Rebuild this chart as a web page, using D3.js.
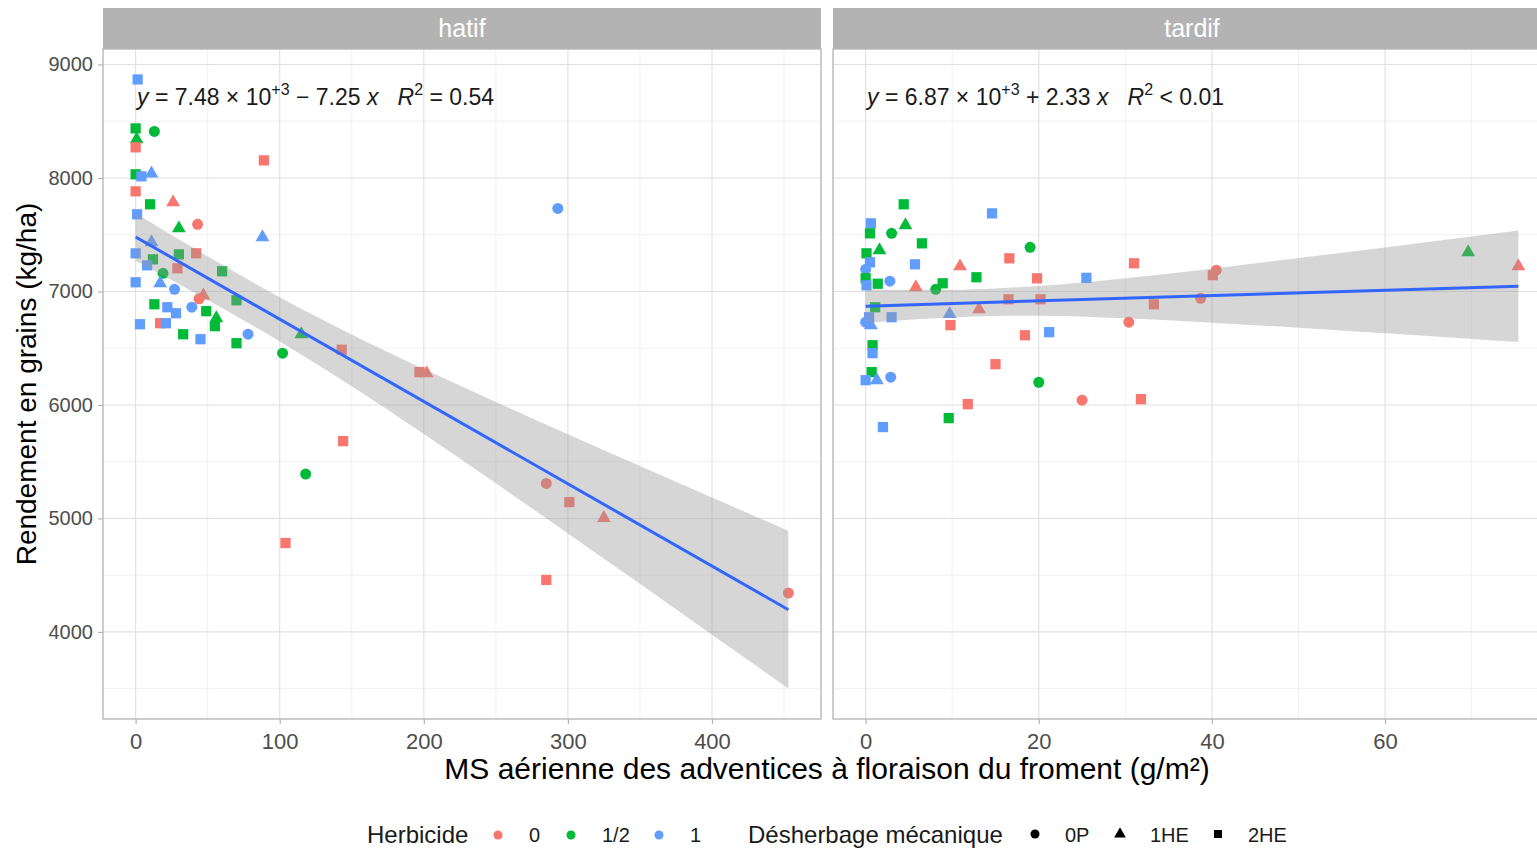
<!DOCTYPE html>
<html>
<head>
<meta charset="utf-8">
<script src="https://cdn.jsdelivr.net/npm/d3@7"></script>
<style>
body { margin: 0; background: #fff; }
svg { display: block; font-family: "Liberation Sans", Arial, sans-serif; }
</style>
</head>
<body>
<svg id="chart" width="1537" height="848"></svg>
<script>
// ---- data ----
const herbLevels = ["0", "1/2", "1"];
const herbColors = ["#F8766D", "#00BA38", "#619CFF"];
const mecaLevels = ["0P", "1HE", "2HE"];

// hatif panel
const hatifX = [1.4, 0, 13, 0.7, 0, 0, 4, 11, 0, 10, 26, 1, 43, 30, 89, 88, 11, 0, 30, 42,
    12, 8, 29, 19, 60, 0, 17, 27, 44, 47, 70, 13, 22, 39, 28, 49, 56, 3, 17, 21,
    55, 33, 45, 78, 70, 115, 102, 293, 143, 197, 202, 144, 118, 104, 285, 301, 325, 285, 453];
const hatifY = [8868, 8437, 8410, 8340, 8270, 8032, 8014, 8040, 7882, 7768, 7785, 7680, 7592, 7556, 8155, 7477, 7433, 7336, 7327, 7336,
    7283, 7230, 7204, 7160, 7178, 7081, 7072, 7019, 6935, 6965, 6922, 6887, 6861, 6861, 6808, 6826, 6764, 6711, 6720, 6720,
    6694, 6623, 6579, 6623, 6544, 6623, 6456, 7732, 6487, 6289, 6280, 5681, 5391, 4783, 5308, 5144, 5004, 4458, 4343];
const hatifHerb = ["1", "1/2", "1/2", "1/2", "0", "1/2", "1", "1", "0", "1/2", "0", "1", "0", "1/2", "0", "1", "1", "1", "1/2", "0",
    "1/2", "1", "0", "1/2", "1/2", "1", "1", "1", "0", "0", "1/2", "1/2", "1", "1", "1", "1/2", "1/2", "1", "0", "1",
    "1/2", "1/2", "1", "1", "1/2", "1/2", "1/2", "1", "0", "0", "0", "0", "1/2", "0", "0", "0", "0", "0", "0"];
const hatifMeca = ["2HE", "2HE", "0P", "1HE", "2HE", "2HE", "2HE", "1HE", "2HE", "2HE", "1HE", "2HE", "0P", "1HE", "2HE", "1HE", "1HE", "2HE", "2HE", "2HE",
    "2HE", "2HE", "2HE", "0P", "2HE", "2HE", "1HE", "0P", "0P", "1HE", "2HE", "2HE", "2HE", "0P", "2HE", "2HE", "1HE", "2HE", "2HE", "2HE",
    "2HE", "2HE", "2HE", "0P", "2HE", "1HE", "0P", "0P", "2HE", "2HE", "1HE", "2HE", "0P", "2HE", "0P", "2HE", "1HE", "2HE", "0P"];

// tardif panel
const tardifX = [4.4, 14.6, 0.6, 0.5, 4.6, 3, 19, 6.5, 1.6, 0.1, 0.5, 0, 5.7, 16.6, 10.9, 19.8, 25.5, 12.8, 2.8, 0,
    0.1, 1.4, 5.8, 8.1, 8.9, 16.5, 20.2, 1.1, 13.1, 9.7, 3, 0.4, 0, 0.6, 9.8, 18.4, 21.2, 0.8, 0.8, 15,
    0.7, 0, 1.3, 2.9, 20, 25, 11.8, 9.6, 2, 31, 40.5, 40.1, 38.7, 33.3, 30.4, 31.8, 69.6, 75.4];
const tardifY = [7768, 7688, 7600, 7512, 7583, 7512, 7389, 7424, 7363, 7336, 7257, 7195, 7239, 7292, 7221, 7116, 7120, 7125, 7090, 7116,
    7054, 7068, 7037, 7019, 7072, 6931, 6931, 6861, 6843, 6800, 6773, 6773, 6729, 6702, 6703, 6614, 6641, 6526, 6456, 6359,
    6289, 6218, 6218, 6245, 6200, 6042, 6007, 5884, 5805, 7248, 7187, 7143, 6940, 6887, 6729, 6051, 7345, 7222];
const tardifHerb = ["1/2", "1", "1", "1/2", "1/2", "1/2", "1/2", "1/2", "1/2", "1/2", "1", "1", "1", "0", "0", "0", "1", "1/2", "1", "1/2",
    "1", "1/2", "0", "1/2", "1/2", "0", "0", "1/2", "0", "1", "1", "1", "1", "1", "0", "0", "1", "1/2", "1", "0",
    "1/2", "1", "1", "1", "1/2", "0", "0", "1/2", "1", "0", "0", "0", "0", "0", "0", "0", "1/2", "0"];
const tardifMeca = ["2HE", "2HE", "2HE", "2HE", "1HE", "0P", "0P", "2HE", "1HE", "2HE", "2HE", "0P", "2HE", "2HE", "1HE", "2HE", "2HE", "2HE", "0P", "2HE",
    "2HE", "2HE", "1HE", "0P", "2HE", "2HE", "2HE", "2HE", "1HE", "1HE", "2HE", "2HE", "0P", "1HE", "2HE", "2HE", "2HE", "2HE", "2HE", "2HE",
    "2HE", "2HE", "1HE", "0P", "0P", "0P", "2HE", "2HE", "2HE", "2HE", "0P", "2HE", "0P", "2HE", "0P", "2HE", "1HE", "1HE"];

// fitted lines (intercept, slope) and confidence bands
const hatifFit = [7480, -7.25];
const tardifFit = [6870, 2.33];
const hatifBandX = [0, 50, 100, 150, 200, 250, 300, 350, 400, 453];
const hatifBandLo = [7270, 6925, 6560, 6165, 5744, 5310, 4868, 4424, 3976, 3501];
const hatifBandHi = [7690, 7310, 6950, 6621, 6316, 6026, 5742, 5462, 5184, 4891];
const tardifBandX = [0, 5, 10, 15, 20, 30, 40, 50, 60, 70, 75.4];
const tardifBandLo = [6720, 6750, 6771, 6784, 6786, 6763, 6725, 6680, 6632, 6582, 6555];
const tardifBandHi = [7020, 7015, 7015, 7026, 7048, 7117, 7201, 7294, 7388, 7484, 7537];

const hatifXTicks = [0, 100, 200, 300, 400];
const tardifXTicks = [0, 20, 40, 60];
const yTicks = [4000, 5000, 6000, 7000, 8000, 9000];

const panels = [
    { name: "hatif", x: hatifX, y: hatifY, herb: hatifHerb, meca: hatifMeca, fit: hatifFit,
      bx: hatifBandX, blo: hatifBandLo, bhi: hatifBandHi, ticks: hatifXTicks,
      eq: { a: "7.48", sign: "\u2212", b: "7.25", r2: "= 0.54" } },
    { name: "tardif", x: tardifX, y: tardifY, herb: tardifHerb, meca: tardifMeca, fit: tardifFit,
      bx: tardifBandX, blo: tardifBandLo, bhi: tardifBandHi, ticks: tardifXTicks,
      eq: { a: "6.87", sign: "+", b: "2.33", r2: "< 0.01" } }
];

// ---- layout ----
const svg = d3.select("#chart");
const panelTop = 49, panelBottom = 719;
const stripTop = 8;
const panelLefts = [103, 833];
const panelWidth = 718;

function expand(lo, hi) {
    const pad = (hi - lo) * 0.05;
    return [lo - pad, hi + pad];
}

const allY = hatifY.concat(tardifY, hatifBandLo, hatifBandHi, tardifBandLo, tardifBandHi);
const y = d3.scaleLinear()
    .domain(expand(d3.min(allY), d3.max(allY)))
    .range([panelBottom, panelTop]);

const shapeFor = { "0P": d3.symbolCircle, "1HE": d3.symbolTriangle, "2HE": d3.symbolSquare };
const sizeFor = { "0P": 95, "1HE": 82, "2HE": 105 };
const color = d3.scaleOrdinal().domain(herbLevels).range(herbColors);

function minorBetween(ticks, domain) {
    const step = ticks[1] - ticks[0];
    const out = [];
    for (let v = ticks[0] - step / 2; v <= domain[1]; v += step) {
        if (v >= domain[0]) out.push(v);
    }
    return out;
}

panels.forEach((p, i) => {
    const left = panelLefts[i];
    const x = d3.scaleLinear()
        .domain(expand(d3.min(p.x), d3.max(p.x)))
        .range([left, left + panelWidth]);

    const g = svg.append("g");

    // strip
    g.append("rect")
        .attr("x", left).attr("y", stripTop)
        .attr("width", panelWidth).attr("height", panelTop - stripTop)
        .attr("fill", "#b3b3b3");
    g.append("text")
        .attr("x", left + panelWidth / 2).attr("y", 37)
        .attr("text-anchor", "middle")
        .attr("font-size", 25)
        .attr("fill", "#fff")
        .text(p.name);

    // grid
    const grid = g.append("g");
    const yMinor = minorBetween(yTicks, y.domain());
    const xMinor = minorBetween(p.ticks, x.domain());
    grid.selectAll(".ymin").data(yMinor).join("line")
        .attr("x1", left).attr("x2", left + panelWidth)
        .attr("y1", d => y(d)).attr("y2", d => y(d))
        .attr("stroke", "#eeeeee").attr("stroke-width", 0.8);
    grid.selectAll(".xmin").data(xMinor).join("line")
        .attr("y1", panelTop).attr("y2", panelBottom)
        .attr("x1", d => x(d)).attr("x2", d => x(d))
        .attr("stroke", "#eeeeee").attr("stroke-width", 0.8);
    grid.selectAll(".ymaj").data(yTicks).join("line")
        .attr("x1", left).attr("x2", left + panelWidth)
        .attr("y1", d => y(d)).attr("y2", d => y(d))
        .attr("stroke", "#e0e0e0").attr("stroke-width", 1.1);
    grid.selectAll(".xmaj").data(p.ticks).join("line")
        .attr("y1", panelTop).attr("y2", panelBottom)
        .attr("x1", d => x(d)).attr("x2", d => x(d))
        .attr("stroke", "#e0e0e0").attr("stroke-width", 1.1);

    // points
    const pts = p.x.map((v, k) => ({ x: v, y: p.y[k], herb: p.herb[k], meca: p.meca[k] }));
    g.append("g").selectAll("path").data(pts).join("path")
        .attr("transform", d => `translate(${x(d.x)},${y(d.y)})`)
        .attr("d", d => d3.symbol().type(shapeFor[d.meca]).size(sizeFor[d.meca])())
        .attr("fill", d => color(d.herb));

    // confidence band
    const band = p.bx.map((v, k) => ({ x: v, lo: p.blo[k], hi: p.bhi[k] }));
    g.append("path")
        .datum(band)
        .attr("d", d3.area().curve(d3.curveMonotoneX)
            .x(d => x(d.x)).y0(d => y(d.lo)).y1(d => y(d.hi)))
        .attr("fill", "#999999").attr("fill-opacity", 0.4);

    // fit line
    const xr = d3.extent(p.x);
    g.append("line")
        .attr("x1", x(xr[0])).attr("y1", y(p.fit[0] + p.fit[1] * xr[0]))
        .attr("x2", x(xr[1])).attr("y2", y(p.fit[0] + p.fit[1] * xr[1]))
        .attr("stroke", "#3366FF").attr("stroke-width", 3);

    // border
    g.append("rect")
        .attr("x", left).attr("y", panelTop)
        .attr("width", panelWidth).attr("height", panelBottom - panelTop)
        .attr("fill", "none").attr("stroke", "#b3b3b3").attr("stroke-width", 1.3);

    // equation
    const eq = g.append("text")
        .attr("x", left + 34).attr("y", 105)
        .attr("font-size", 23)
        .attr("fill", "#1a1a1a")
        .style("white-space", "pre");
    eq.append("tspan").attr("font-style", "italic").text("y");
    eq.append("tspan").text(` = ${p.eq.a} \u00d7 10`);
    eq.append("tspan").attr("dy", -10).attr("font-size", 16).text("+3");
    eq.append("tspan").attr("dy", 10).text(` ${p.eq.sign} ${p.eq.b} `);
    eq.append("tspan").attr("font-style", "italic").text("x");
    eq.append("tspan").text("   ");
    eq.append("tspan").attr("font-style", "italic").text("R");
    eq.append("tspan").attr("dy", -10).attr("font-size", 16).text("2");
    eq.append("tspan").attr("dy", 10).text(` ${p.eq.r2}`);

    // x axis
    const xa = g.append("g")
        .attr("transform", `translate(0,${panelBottom})`)
        .call(d3.axisBottom(x).tickValues(p.ticks).tickSize(5).tickPadding(9).tickFormat(d3.format("d")));
    xa.select(".domain").remove();
    xa.selectAll("line").attr("stroke", "#b3b3b3").attr("stroke-width", 1.2);
    xa.selectAll("text").attr("font-size", 22).attr("fill", "#4d4d4d")
        .attr("font-family", "Liberation Sans, Arial, sans-serif");

    if (i === 0) {
        const ya = g.append("g")
            .attr("transform", `translate(${left},0)`)
            .call(d3.axisLeft(y).tickValues(yTicks).tickSize(5).tickPadding(5).tickFormat(d3.format("d")));
        ya.select(".domain").remove();
        ya.selectAll("line").attr("stroke", "#b3b3b3").attr("stroke-width", 1.2);
        ya.selectAll("text").attr("font-size", 20).attr("fill", "#4d4d4d")
            .attr("font-family", "Liberation Sans, Arial, sans-serif");
    }
});

// axis titles
svg.append("text")
    .attr("transform", `translate(36,${(panelTop + panelBottom) / 2}) rotate(-90)`)
    .attr("text-anchor", "middle")
    .attr("font-size", 28)
    .attr("fill", "#000")
    .text("Rendement en grains (kg/ha)");
svg.append("text")
    .attr("x", 827).attr("y", 779)
    .attr("text-anchor", "middle")
    .attr("font-size", 30)
    .attr("fill", "#000")
    .text("MS aérienne des adventices à floraison du froment (g/m²)");

// legend
const legY = 835;
const leg = svg.append("g").attr("fill", "#1a1a1a");
leg.append("text").attr("x", 367).attr("y", legY + 8).attr("font-size", 24).text("Herbicide");
const herbKeyX = [498, 571, 659];
herbLevels.forEach((h, k) => {
    leg.append("circle").attr("cx", herbKeyX[k]).attr("cy", legY).attr("r", 4.5).attr("fill", color(h));
    leg.append("text").attr("x", herbKeyX[k] + 31).attr("y", legY + 7).attr("font-size", 20).text(h);
});
leg.append("text").attr("x", 748).attr("y", legY + 8).attr("font-size", 24).text("Désherbage mécanique");
const mecaKeyX = [1035, 1120, 1218];
mecaLevels.forEach((m, k) => {
    leg.append("path")
        .attr("transform", `translate(${mecaKeyX[k]},${legY - 1})`)
        .attr("d", d3.symbol().type(shapeFor[m]).size(m === "1HE" ? 60 : 64)())
        .attr("fill", "#000");
    leg.append("text").attr("x", mecaKeyX[k] + 30).attr("y", legY + 7).attr("font-size", 20).text(m);
});
</script>
</body>
</html>
